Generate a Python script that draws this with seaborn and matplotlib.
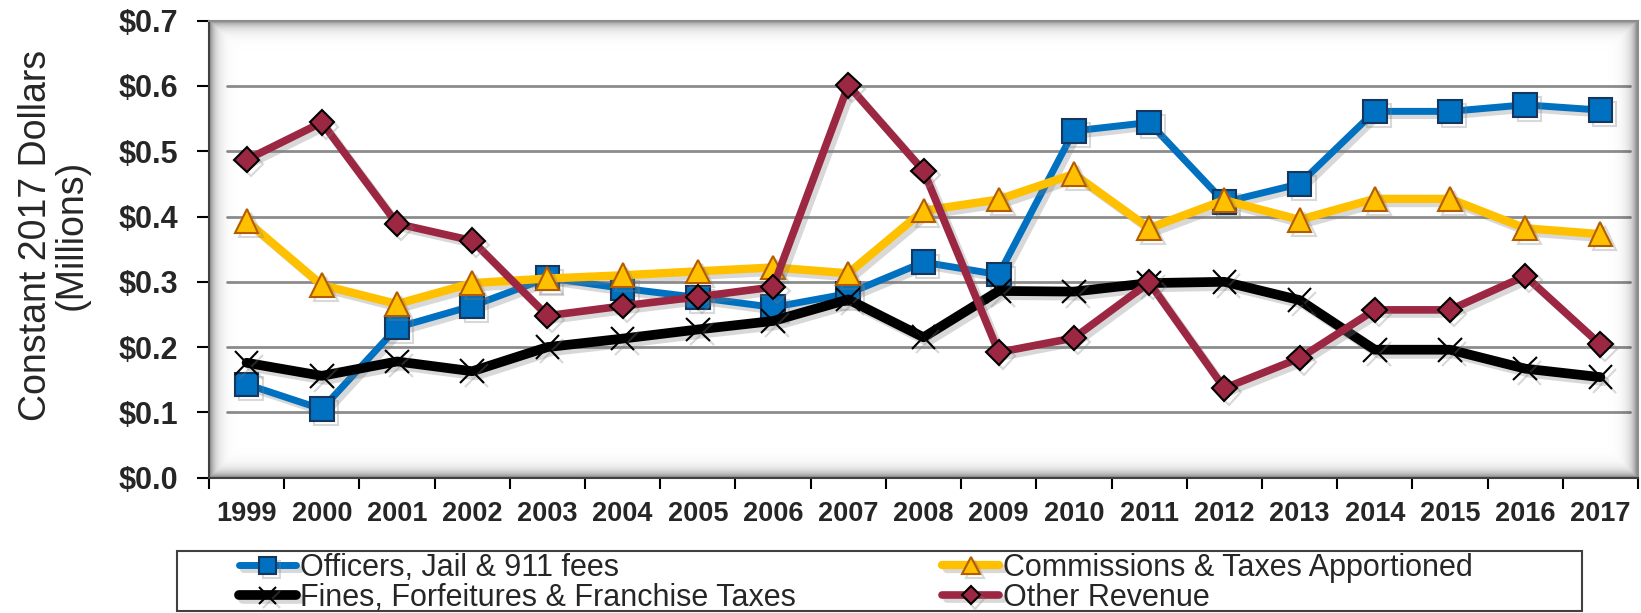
import numpy as np
import matplotlib
matplotlib.use("Agg")
import matplotlib.pyplot as plt
import matplotlib.patheffects as pe
from matplotlib.patches import Rectangle
import seaborn as sns

# Revenue by source, constant 2017 dollars (millions)
years = list(range(1999, 2018))
officers = [0.143, 0.105, 0.230, 0.263, 0.306, 0.290, 0.276, 0.261, 0.282, 0.330,
            0.311, 0.531, 0.544, 0.422, 0.450, 0.561, 0.561, 0.571, 0.563]
commissions = [0.393, 0.295, 0.266, 0.298, 0.305, 0.310, 0.316, 0.322, 0.313, 0.409,
               0.426, 0.465, 0.382, 0.425, 0.395, 0.427, 0.427, 0.382, 0.373]
fines = [0.176, 0.156, 0.178, 0.163, 0.200, 0.213, 0.227, 0.240, 0.273, 0.215,
         0.286, 0.285, 0.298, 0.300, 0.272, 0.196, 0.196, 0.167, 0.154]
other = [0.487, 0.544, 0.389, 0.363, 0.248, 0.263, 0.277, 0.292, 0.601, 0.470,
         0.192, 0.214, 0.299, 0.137, 0.183, 0.257, 0.257, 0.309, 0.204]
yticks = [0.0, 0.1, 0.2, 0.3, 0.4, 0.5, 0.6, 0.7]

sns.set_style("white")
plt.rcParams["font.family"] = ["Liberation Sans", "DejaVu Sans"]

fig = plt.figure(figsize=(16.41, 6.13), dpi=100)
ax = fig.add_axes([209 / 1641, 1 - 477.7 / 613, 1429 / 1641, 457.1 / 613])

shadow = [pe.SimpleLineShadow(offset=(3, -3), shadow_color="gray", alpha=0.3), pe.Normal()]

series = [
    ("Officers, Jail & 911 fees", officers,
     dict(color="#0070C0", lw=5, marker="s", markersize=17, markerfacecolor="#0070C0",
          markeredgecolor="#17365D", markeredgewidth=1.5)),
    ("Commissions & Taxes Apportioned", commissions,
     dict(color="#FFC000", lw=6, marker="^", markersize=17, markerfacecolor="#FFC000",
          markeredgecolor="#B35C00", markeredgewidth=1.5)),
    ("Fines, Forfeitures & Franchise Taxes", fines,
     dict(color="black", lw=7, marker="x", markersize=17, markeredgecolor="black",
          markeredgewidth=1.5)),
    ("Other Revenue", other,
     dict(color="#9B2743", lw=5.5, marker="D", markersize=12.5, markerfacecolor="#9B2743",
          markeredgecolor="black", markeredgewidth=1.5)),
]

handles = {}
for name, vals, style in series:
    sns.lineplot(x=years, y=vals, ax=ax, label=name, legend=False,
                 path_effects=shadow, zorder=3, **style)
    handles[name] = ax.lines[-1]

# y axis
ax.set_yticks(yticks)
ax.set_yticklabels([f"${v:.1f}" for v in yticks], fontsize=22, fontweight="bold")
ax.tick_params(axis="y", direction="out", length=9, width=1.5, color="black", pad=13, left=True)
for v in yticks[1:-1]:
    ax.axhline(v, xmin=0.0126, xmax=0.9944, color="#8c8c8c", lw=2, zorder=1)

# x axis: labels on categories, tick marks between them
ax.set_xticks(years)
ax.set_xticklabels([str(y) for y in years], fontsize=19.5, fontweight="bold")
ax.set_xticks([y + 0.5 for y in [years[0] - 1] + years], minor=True)
ax.tick_params(axis="x", which="major", length=0, pad=17)
ax.tick_params(axis="x", which="minor", direction="out", length=8, width=1.5, color="black", bottom=True)
ax.set_xlabel("")

ax.set_ylabel("Constant 2017 Dollars\n(Millions)", fontsize=27, linespacing=1.0, va="center")
ax.yaxis.set_label_coords(-0.1085, 0.531)

# plot-area inner shadow
h, w = 457, 1429
yy, xx = np.mgrid[0:h, 0:w]
d = np.minimum.reduce([xx, w - 1 - xx, yy, h - 1 - yy]).astype(float)
img = np.zeros((h, w, 4))
img[..., 3] = 0.5 * np.exp(-d / 6.0)
ax.imshow(img, extent=[0, 1, 0, 1], transform=ax.transAxes, aspect="auto", zorder=2,
          interpolation="bilinear")
ax.set_xlim(years[0] - 0.5, years[-1] + 0.5)
ax.set_ylim(yticks[0], yticks[-1])

for side in ["left", "bottom"]:
    ax.spines[side].set_color("#404040")
    ax.spines[side].set_linewidth(1.5)
for side in ["top", "right"]:
    ax.spines[side].set_color("#8c8c8c")
    ax.spines[side].set_linewidth(1.5)

# legend
order = ["Officers, Jail & 911 fees", "Fines, Forfeitures & Franchise Taxes",
         "Commissions & Taxes Apportioned", "Other Revenue"]
fig.legend([handles[n] for n in order], order, ncol=2, frameon=False, fontsize=22,
           loc="upper left", bbox_to_anchor=(239 / 1641, 1 - 553 / 613),
           bbox_transform=fig.transFigure, borderpad=0, borderaxespad=0,
           handlelength=1.87, handletextpad=0.11, labelspacing=0.0, columnspacing=4.81,
           markerscale=0.74)
fig.patches.append(Rectangle((177.3 / 1641, 2 / 613), (1581.7 - 177.3) / 1641, 60.3 / 613,
                             transform=fig.transFigure, fill=False,
                             edgecolor="#404040", lw=1.5))

fig.savefig("out.png", dpi=100)
